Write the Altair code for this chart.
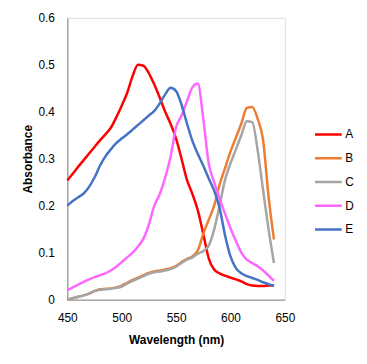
import altair as alt
import pandas as pd

wavelength = list(range(450, 645, 5))

series_names = ["A", "B", "C", "D", "E"]
series_colors = ["#FF0000", "#ED7D31", "#A5A5A5", "#FF66FF", "#4472C4"]

a_vals = [0.254, 0.268, 0.283, 0.297, 0.311, 0.325, 0.339, 0.352, 0.366, 0.388,
          0.413, 0.440, 0.476, 0.500, 0.498, 0.482, 0.458, 0.430, 0.400, 0.374,
          0.343, 0.300, 0.255, 0.225, 0.190, 0.140, 0.088, 0.064, 0.056, 0.051,
          0.047, 0.043, 0.039, 0.033, 0.030, 0.029, 0.029, 0.030, 0.030]
b_vals = [0.000, 0.003, 0.006, 0.009, 0.013, 0.018, 0.022, 0.023, 0.024, 0.026,
          0.030, 0.036, 0.042, 0.047, 0.052, 0.057, 0.060, 0.062, 0.064, 0.067,
          0.072, 0.080, 0.087, 0.092, 0.105, 0.140, 0.170, 0.200, 0.245, 0.280,
          0.315, 0.345, 0.375, 0.408, 0.410, 0.385, 0.340, 0.220, 0.128]
c_vals = [0.000, 0.003, 0.006, 0.009, 0.013, 0.018, 0.021, 0.022, 0.023, 0.025,
          0.028, 0.034, 0.040, 0.045, 0.050, 0.055, 0.058, 0.060, 0.062, 0.065,
          0.070, 0.078, 0.085, 0.090, 0.098, 0.103, 0.115, 0.149, 0.200, 0.255,
          0.290, 0.320, 0.350, 0.380, 0.378, 0.318, 0.233, 0.150, 0.078]
d_vals = [0.020, 0.026, 0.032, 0.038, 0.043, 0.048, 0.052, 0.056, 0.062, 0.070,
          0.080, 0.090, 0.100, 0.113, 0.130, 0.160, 0.200, 0.225, 0.260, 0.305,
          0.367, 0.392, 0.422, 0.452, 0.460, 0.385, 0.290, 0.250, 0.215, 0.183,
          0.152, 0.125, 0.100, 0.085, 0.078, 0.071, 0.062, 0.051, 0.040]
e_vals = [0.200, 0.210, 0.218, 0.226, 0.240, 0.260, 0.285, 0.305, 0.320, 0.333,
          0.343, 0.352, 0.362, 0.372, 0.382, 0.392, 0.402, 0.418, 0.437, 0.451,
          0.444, 0.415, 0.375, 0.338, 0.310, 0.285, 0.258, 0.232, 0.195, 0.137,
          0.092, 0.067, 0.056, 0.050, 0.046, 0.042, 0.037, 0.033, 0.029]

x_ticks = [450, 500, 550, 600, 650]
y_ticks = [0, 0.1, 0.2, 0.3, 0.4, 0.5, 0.6]

rows = []
for name, vals in zip(series_names, [a_vals, b_vals, c_vals, d_vals, e_vals]):
    for w, v in zip(wavelength, vals):
        rows.append({"Wavelength": w, "Absorbance": v, "Series": name})
df = pd.DataFrame(rows)

FONT = "Liberation Sans"

chart = alt.Chart(df).mark_line(strokeWidth=2.5, interpolate="monotone").encode(
    x=alt.X("Wavelength:Q", title="Wavelength (nm)",
            scale=alt.Scale(domain=[450, 650], nice=False),
            axis=alt.Axis(values=x_ticks, grid=False, ticks=False, labelPadding=13,
                          domainColor="#868686", labelColor="#000000",
                          labelFont=FONT, labelFontSize=12, titleFont=FONT,
                          titleFontSize=12, titleFontWeight="bold", titleColor="#000000",
                          titlePadding=11, labelFlush=False)),
    y=alt.Y("Absorbance:Q", title="Absorbance",
            scale=alt.Scale(domain=[0, 0.6], nice=False),
            axis=alt.Axis(values=y_ticks, grid=False, ticks=False, labelPadding=13,
                          format=".1~f",
                          domainColor="#868686", labelColor="#000000",
                          labelFont=FONT, labelFontSize=12, titleFont=FONT,
                          titleFontSize=12, titleFontWeight="bold", titleColor="#000000",
                          titlePadding=4, labelFlush=False)),
    color=alt.Color("Series:N",
                    scale=alt.Scale(domain=series_names, range=series_colors),
                    legend=alt.Legend(title=None, orient="none", legendX=249, legendY=106,
                                      symbolType="stroke", symbolSize=729,
                                      symbolStrokeWidth=2.5, clipHeight=24, rowPadding=0,
                                      labelOffset=2, labelFont=FONT, labelFontSize=12,
                                      labelColor="#000000", padding=0)),
).properties(
    width=220, height=285,
    padding={"left": 13, "top": 2, "right": 5, "bottom": 5},
).configure_view(stroke=None).configure(background="#FFFFFF")

chart.save("out.html", embed_options={"renderer": "svg", "actions": False})
